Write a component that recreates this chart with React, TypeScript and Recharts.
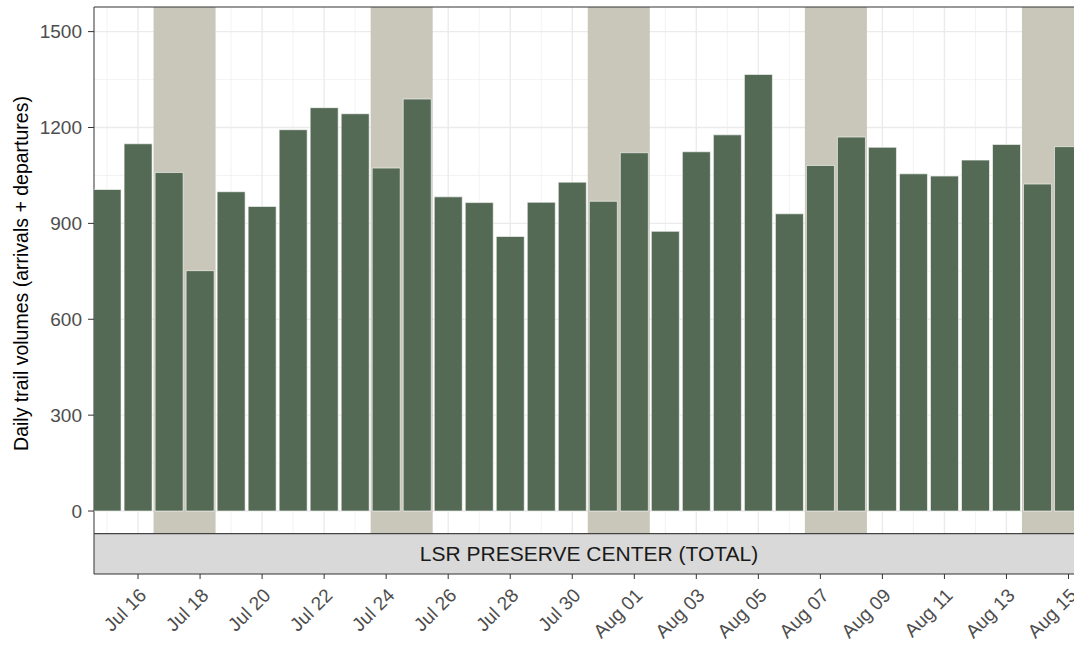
import { ComposedChart, Bar, XAxis, YAxis, CartesianGrid, ReferenceArea } from 'recharts';

// daily counts, Jul 15 - Aug 15 (2021)
const DAYS = [
  'Jul 15', 'Jul 16', 'Jul 17', 'Jul 18', 'Jul 19', 'Jul 20', 'Jul 21', 'Jul 22',
  'Jul 23', 'Jul 24', 'Jul 25', 'Jul 26', 'Jul 27', 'Jul 28', 'Jul 29', 'Jul 30',
  'Jul 31', 'Aug 01', 'Aug 02', 'Aug 03', 'Aug 04', 'Aug 05', 'Aug 06', 'Aug 07',
  'Aug 08', 'Aug 09', 'Aug 10', 'Aug 11', 'Aug 12', 'Aug 13', 'Aug 14', 'Aug 15',
];
const VOLUMES = [
  1006, 1149, 1059, 752, 999, 953, 1193, 1262,
  1243, 1073, 1289, 983, 965, 859, 966, 1029,
  969, 1121, 875, 1124, 1177, 1366, 930, 1081,
  1170, 1138, 1055, 1048, 1098, 1147, 1023, 1140,
];
// weekend shading (first day, last day)
const WEEKENDS = [
  ['Jul 17', 'Jul 18'],
  ['Jul 24', 'Jul 25'],
  ['Jul 31', 'Aug 01'],
  ['Aug 07', 'Aug 08'],
  ['Aug 14', 'Aug 15'],
];
const X_TICK_LABELS = [
  'Jul 16', 'Jul 18', 'Jul 20', 'Jul 22', 'Jul 24', 'Jul 26', 'Jul 28', 'Jul 30',
  'Aug 01', 'Aug 03', 'Aug 05', 'Aug 07', 'Aug 09', 'Aug 11', 'Aug 13', 'Aug 15',
];
const Y_TICKS = [0, 300, 600, 900, 1200, 1500];
const Y_MINOR = [150, 450, 750, 1050, 1350];

const FACET = 'LSR PRESERVE CENTER (TOTAL)';
const Y_TITLE = 'Daily trail volumes (arrivals + departures)';

// panel limits; the facet strip sits under the panel, inside the plot area
const X_MIN = -0.42;
const X_MAX = 31.5;
const Y_TOP = 1577;
const PANEL_BOTTOM = -71;
const STRIP_BOTTOM = -197;

const FONT = '"Liberation Sans", Arial, sans-serif';
const BAR_FILL = '#546a55';
const SHADE = '#c9c6ba';

const data = DAYS.map((day, i) => ({ idx: i, day, volume: VOLUMES[i] }));
const xTicks = X_TICK_LABELS.map((l) => DAYS.indexOf(l));
const xMinor = DAYS.map((_, i) => i).filter((i) => !xTicks.includes(i));

function XTick({ x, y, payload }: any) {
  return (
    <text
      x={x}
      y={y}
      dy="0.71em"
      textAnchor="end"
      transform={`rotate(-45 ${x} ${y})`}
      fontSize={19}
      fill="#4d4d4d"
      fontFamily={FONT}
    >
      {DAYS[payload.value]}
    </text>
  );
}

function YTitle(props: any) {
  const vb = props.viewBox ?? { x: 0, y: 7, width: 94, height: 567 };
  const x = vb.x + 28;
  const y = vb.y + (vb.height - 40) / 2 + 3;
  return (
    <text
      x={x}
      y={y}
      textAnchor="middle"
      transform={`rotate(-90 ${x} ${y})`}
      fontSize={19.5}
      fill="#000000"
      fontFamily={FONT}
    >
      {Y_TITLE}
    </text>
  );
}

export default function App() {
  return (
    <div
      style={{
        position: 'absolute',
        left: 0,
        top: 0,
        width: 1074,
        height: 649,
        overflow: 'hidden',
        background: '#ffffff',
      }}
    >
      <ComposedChart
        width={1090}
        height={649}
        data={data}
        margin={{ top: 7, right: 6, bottom: 0, left: 0 }}
        barCategoryGap="5%"
        style={{ fontFamily: FONT }}
      >
        {/* minor + major grid */}
        <CartesianGrid
          stroke="#f0f0f0"
          strokeWidth={0.8}
          horizontalValues={Y_MINOR}
          verticalValues={xMinor}
        />
        <CartesianGrid
          stroke="#ebebeb"
          strokeWidth={1.4}
          horizontalValues={Y_TICKS}
          verticalValues={xTicks}
        />

        {WEEKENDS.map(([a, b]) => (
          <ReferenceArea
            key={a}
            x1={DAYS.indexOf(a) - 0.5}
            x2={DAYS.indexOf(b) + 0.5}
            y1={PANEL_BOTTOM}
            y2={Y_TOP}
            fill={SHADE}
            fillOpacity={1}
            stroke="none"
          />
        ))}

        <XAxis
          dataKey="idx"
          type="number"
          domain={[X_MIN, X_MAX]}
          allowDataOverflow
          ticks={xTicks}
          interval={0}
          tick={<XTick />}
          tickSize={5}
          tickMargin={8}
          tickLine={{ stroke: '#333333' }}
          axisLine={false}
          height={75}
        />
        <YAxis
          type="number"
          domain={[STRIP_BOTTOM, Y_TOP]}
          allowDataOverflow
          ticks={Y_TICKS}
          interval={0}
          width={94}
          tickSize={6}
          tickMargin={6}
          tickLine={{ stroke: '#333333' }}
          axisLine={false}
          tick={{ fill: '#4d4d4d', fontSize: 19 }}
          label={YTitle}
        />

        <Bar
          dataKey="volume"
          fill={BAR_FILL}
          stroke="#ffffff"
          strokeWidth={0.6}
          isAnimationActive={false}
        />

        {/* panel border */}
        <ReferenceArea
          x1={X_MIN}
          x2={X_MAX}
          y1={PANEL_BOTTOM}
          y2={Y_TOP}
          fill="none"
          fillOpacity={0}
          stroke="#333333"
          strokeWidth={1}
        />
        {/* facet strip */}
        <ReferenceArea
          x1={X_MIN}
          x2={X_MAX}
          y1={STRIP_BOTTOM}
          y2={PANEL_BOTTOM}
          fill="#d9d9d9"
          fillOpacity={1}
          stroke="#333333"
          strokeWidth={1}
          label={{ value: FACET, position: 'center', fill: '#1a1a1a', fontSize: 21 }}
        />
      </ComposedChart>
    </div>
  );
}
